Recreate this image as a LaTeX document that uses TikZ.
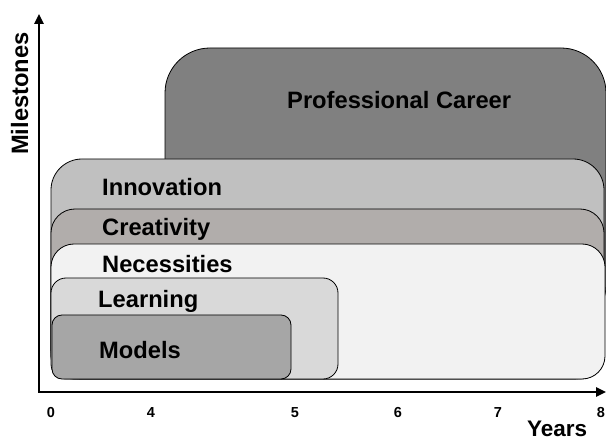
\documentclass[tikz,border=0pt]{standalone}
\usepackage{fontspec}
\setmainfont{Liberation Sans}
\usetikzlibrary{arrows.meta}
\definecolor{career}{HTML}{808080}
\definecolor{innov}{HTML}{C0C0C0}
\definecolor{creat}{HTML}{B1ADAB}
\definecolor{needs}{HTML}{F2F2F2}
\definecolor{learn}{HTML}{D9D9D9}
\definecolor{model}{HTML}{A6A6A6}
\tikzstyle{block}=[draw=black, line width=0.8pt]
\tikzstyle{blocktext}=[anchor=base west, inner sep=0pt, font=\fontsize{23.7}{28}\selectfont\bfseries]
\tikzstyle{ticklabel}=[inner sep=0pt, font=\fontsize{14.5}{17}\selectfont\bfseries]
\tikzstyle{axisline}=[line width=2.4pt, line cap=rect, -{Triangle[length=10pt,width=9pt]}]

\begin{document}
\begin{tikzpicture}[x=1pt, y=-1pt]
	\useasboundingbox (0,0) rectangle (606,441);
	% blocks, back to front
	\draw [style=block, fill=career, rounded corners=45pt] (165,48) rectangle (606,330);
	\draw [style=block, fill=innov, rounded corners=31pt] (51,159) rectangle (604,379);
	\draw [style=block, fill=creat, rounded corners=24pt] (51,209) rectangle (604,379);
	\draw [style=block, fill=needs, rounded corners=23pt] (51,244) rectangle (605,379);
	\draw [style=block, fill=learn, rounded corners=15pt] (51,278) rectangle (338,379);
	\draw [style=block, fill=model, rounded corners=10pt] (52,315) rectangle (291,379);
	\node [style=blocktext] (0) at (287,109) {Professional Career};
	\node [style=blocktext] (1) at (102,196) {Innovation};
	\node [style=blocktext] (2) at (102,236) {Creativity};
	\node [style=blocktext] (3) at (102,272.5) {Necessities};
	\node [style=blocktext] (4) at (98,308) {Learning};
	\node [style=blocktext] (5) at (99,359) {Models};
	% axes
	\coordinate (origin) at (39,392);
	\coordinate (ytop) at (39,14);
	\coordinate (xend) at (606,392);
	\draw [style=axisline] (origin) -- (ytop);
	\draw [style=axisline] (origin) -- (xend);
	\node [style=blocktext, rotate=90] (ylab) at (28,155) {Milestones};
	\node [style=blocktext, font=\fontsize{22.5}{27}\selectfont\bfseries] (xlab) at (527,436.5) {Years};
	\foreach \x/\t in {51/0, 151/4, 295/5, 398/6, 498/7, 601/8}
		\node [style=ticklabel] (t\t) at (\x,413) {\t};
\end{tikzpicture}
\end{document}
